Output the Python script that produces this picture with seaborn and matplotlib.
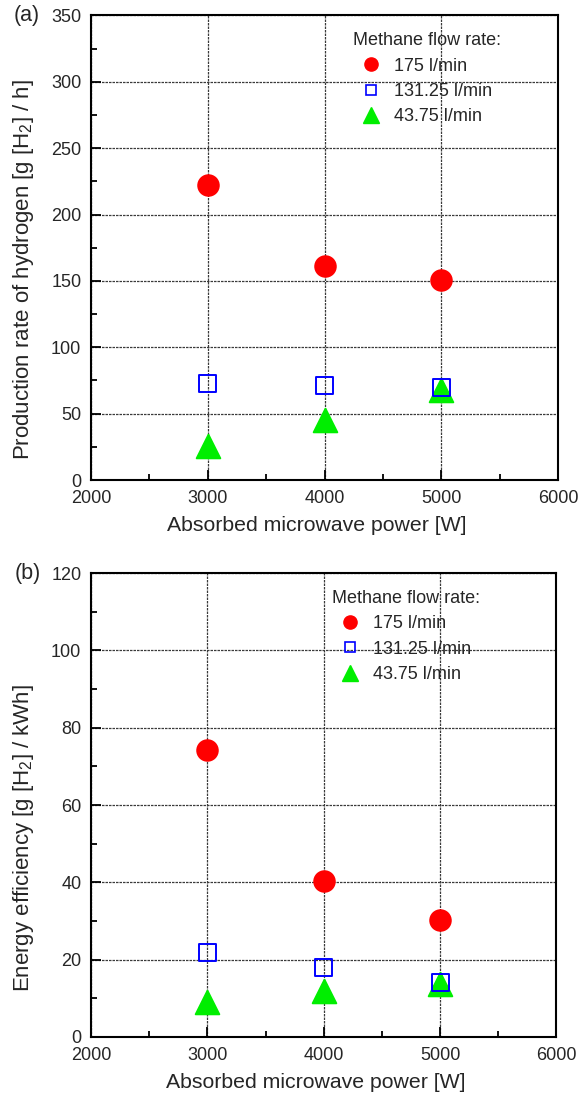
import matplotlib.pyplot as plt
from matplotlib.lines import Line2D
from matplotlib.ticker import MultipleLocator
import seaborn as sns

# data
power = [3000, 4000, 5000]
flow_labels = ['175 l/min', '131.25 l/min', '43.75 l/min']

prod_175 = [222, 161, 151]
prod_131 = [72.5, 71.5, 70]
prod_43 = [26, 45.5, 68]

eff_175 = [74.2, 40.3, 30.2]
eff_131 = [21.7, 17.9, 14.0]
eff_43 = [9.0, 11.9, 13.7]

sns.set_style('ticks')
plt.rcParams['font.family'] = ['Liberation Sans', 'DejaVu Sans']
plt.rcParams['mathtext.fontset'] = 'custom'
plt.rcParams['mathtext.rm'] = 'Liberation Sans'
plt.rcParams['mathtext.it'] = 'Liberation Sans:italic'
plt.rcParams['mathtext.default'] = 'regular'

# marker styles: filled red circle, hollow blue square, filled green triangle
styles = [
    dict(marker='o', color='#ff0000', edgecolor='#ff0000', s=225, zorder=3),
    dict(marker='s', facecolor='none', edgecolor='#0000ff', linewidth=1.4, s=150, zorder=5),
    dict(marker='^', color='#00ee00', edgecolor='#00ee00', s=290, zorder=4),
]
legend_handles = [
    Line2D([], [], ls='none', marker='o', color='#ff0000', markersize=9.5),
    Line2D([], [], ls='none', marker='s', mfc='none', mec='#0000ff', mew=1.2, markersize=7.5),
    Line2D([], [], ls='none', marker='^', color='#00ee00', markersize=11),
]


def draw_panel(ax, series, ylim, ymajor, yminor, ylabel, ylabel_y, tag, leg_anchor):
    for vals, st in zip(series, styles):
        sns.scatterplot(x=power, y=vals, ax=ax, legend=False, **st)
    ax.set_xlim(2000, 6000)
    ax.set_ylim(*ylim)
    ax.xaxis.set_major_locator(MultipleLocator(1000))
    ax.xaxis.set_minor_locator(MultipleLocator(500))
    ax.yaxis.set_major_locator(MultipleLocator(ymajor))
    ax.yaxis.set_minor_locator(MultipleLocator(yminor))
    ax.tick_params(which='both', direction='in', top=False, right=False,
                   width=1.3, color='black', labelsize=13)
    ax.tick_params(which='major', length=7, pad=7)
    ax.tick_params(which='minor', length=4)
    for sp in ax.spines.values():
        sp.set_linewidth(1.5)
        sp.set_color('black')
    ax.set_axisbelow(True)
    ax.grid(True, which='major', color='#3a3a3a', linestyle=(0, (2, 0.8)), linewidth=0.9)
    ax.set_xlabel('Absorbed microwave power [W]', fontsize=15.3)
    ax.xaxis.set_label_coords(0.483, -0.078)
    ax.set_ylabel(ylabel, fontsize=16)
    ax.yaxis.set_label_coords(-0.118, ylabel_y)
    ax.text(-0.165, 1.0, tag, transform=ax.transAxes, fontsize=15.5, va='center', ha='left')
    ax.legend(legend_handles, flow_labels, title='Methane flow rate:',
              loc='upper left', bbox_to_anchor=leg_anchor, frameon=False,
              fontsize=13, title_fontsize=13, borderpad=0, handlelength=1.0,
              handletextpad=0.8, labelspacing=0.46)


fig = plt.figure(figsize=(5.87, 10.96), dpi=100)
ax1 = fig.add_axes([0.155, 0.562, 0.796, 0.424])
ax2 = fig.add_axes([0.155, 0.054, 0.793, 0.423])

draw_panel(ax1, [prod_175, prod_131, prod_43], (0, 350), 50, 25,
           'Production rate of hydrogen [g [H$_2$] / h]', 0.452, '(a)', (0.542, 0.983))
draw_panel(ax2, [eff_175, eff_131, eff_43], (0, 120), 20, 10,
           'Energy efficiency [g [H$_2$] / kWh]', 0.429, '(b)', (0.499, 0.983))

fig.savefig('out.png', dpi=100)
